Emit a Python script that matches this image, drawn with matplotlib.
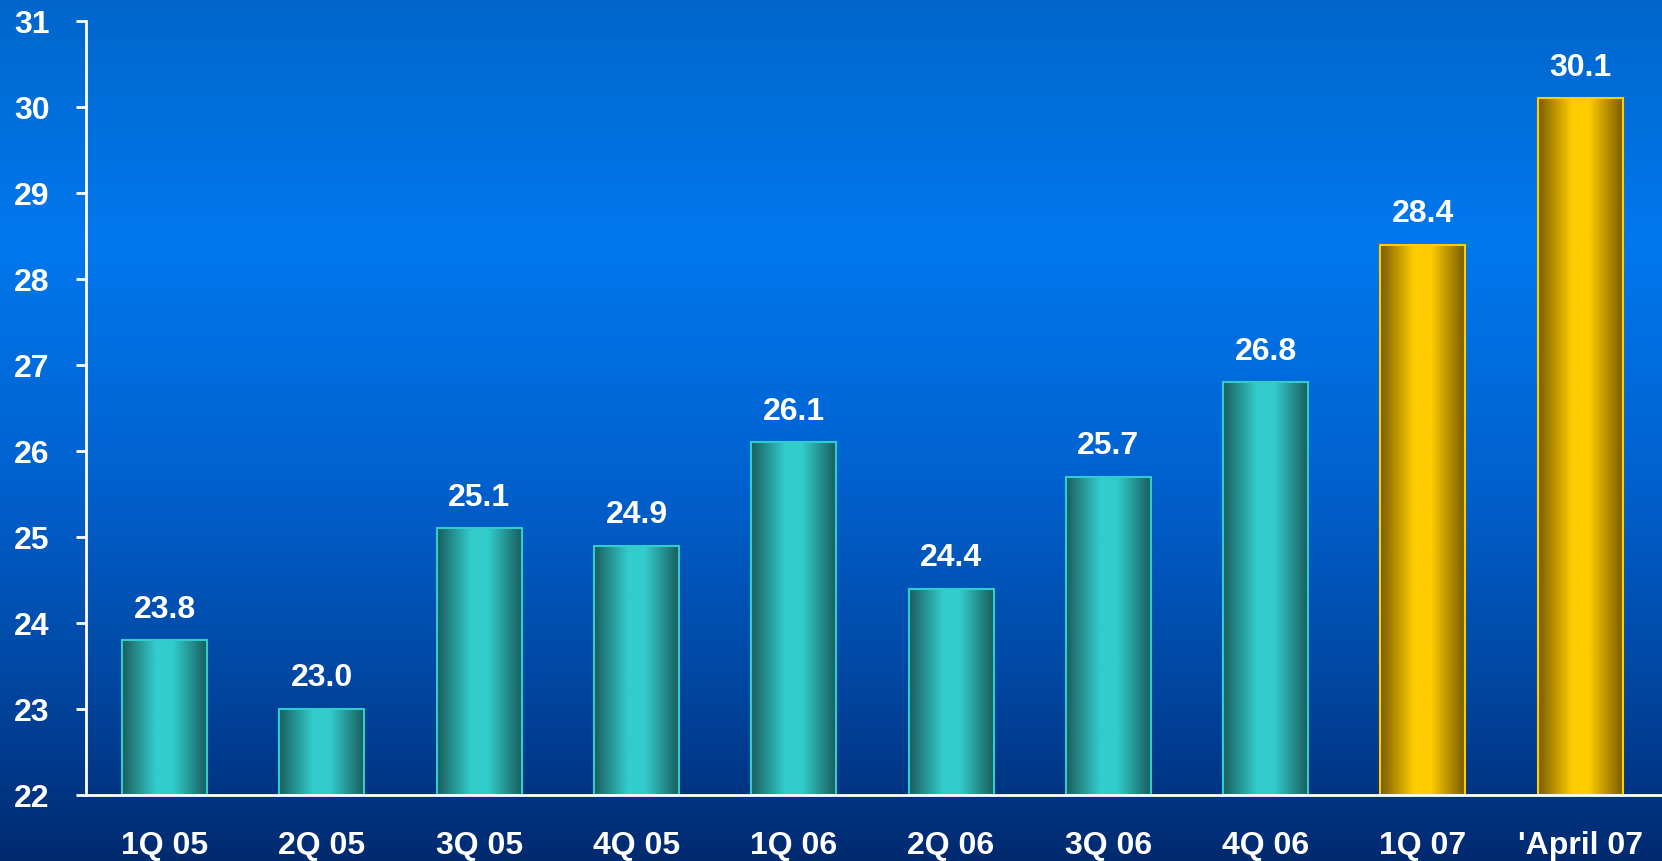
import numpy as np
import matplotlib.pyplot as plt
from matplotlib.colors import LinearSegmentedColormap

quarters = ['1Q 05', '2Q 05', '3Q 05', '4Q 05', '1Q 06', '2Q 06', '3Q 06', '4Q 06', '1Q 07', "'April 07"]
values = [23.8, 23.0, 25.1, 24.9, 26.1, 24.4, 25.7, 26.8, 28.4, 30.1]
highlight = [False] * 8 + [True, True]
y_ticks = [22, 23, 24, 25, 26, 27, 28, 29, 30, 31]

plt.rcParams['font.family'] = ['Liberation Sans', 'DejaVu Sans']
plt.rcParams['font.weight'] = 'bold'

fig = plt.figure(figsize=(16.62, 8.62), dpi=100)

# background: vertical blue gradient over the whole figure
bg = fig.add_axes([0, 0, 1, 1])
bg_cmap = LinearSegmentedColormap.from_list(
    'bg', [(0.0, '#0066cc'), (0.28, '#0078ee'), (0.55, '#0062d0'), (0.8, '#0046a0'), (1.0, '#002a70')])
bg.imshow(np.linspace(0, 1, 256).reshape(-1, 1), aspect='auto', cmap=bg_cmap,
          extent=[0, 1, 1, 0])
bg.set_axis_off()

ax = fig.add_axes([0.0517, 0.0766, 0.9483, 0.8979])
ax.patch.set_alpha(0)

teal = LinearSegmentedColormap.from_list(
    'teal', [(0, '#1a5e5e'), (0.4, '#33cccc'), (0.6, '#33cccc'), (1, '#1a5e5e')])
gold = LinearSegmentedColormap.from_list(
    'gold', [(0, '#7a5c00'), (0.4, '#ffcc00'), (0.6, '#ffcc00'), (1, '#7a5c00')])
grad = np.linspace(0, 1, 256).reshape(1, -1)

x = np.arange(len(quarters))
bars = ax.bar(x, [v - 22 for v in values], bottom=22, width=0.54,
              color='none', zorder=2)
for bar, hl, v in zip(bars, highlight, values):
    bx, by = bar.get_x(), bar.get_y()
    bw, bh = bar.get_width(), bar.get_height()
    im = ax.imshow(grad, aspect='auto', cmap=gold if hl else teal,
                   extent=[bx, bx + bw, by, by + bh], zorder=2)
    im.set_clip_path(bar)
    bar.set_edgecolor('#ffcc00' if hl else '#33cccc')
    bar.set_linewidth(1.5)
    bar.set_zorder(3)
    ax.annotate(f'{v:.1f}', (bar.get_x() + bw / 2, v), xytext=(0, 12),
                textcoords='offset points', ha='center', va='bottom',
                color='white', fontsize=23, fontweight='bold')

ax.set_xlim(-0.5, 9.52)
ax.set_ylim(22, 31)
ax.set_yticks(y_ticks)
ax.set_xticks(x)
ax.set_xticklabels(quarters)

for s in ['top', 'right']:
    ax.spines[s].set_visible(False)
for s in ['left', 'bottom']:
    ax.spines[s].set_color('white')
    ax.spines[s].set_linewidth(2)
    ax.spines[s].set_zorder(4)

ax.tick_params(axis='y', colors='white', length=7, width=2, pad=19, labelsize=23)
ax.tick_params(axis='x', colors='white', length=0, pad=25, labelsize=23)

fig.savefig('out.png', dpi=100)
